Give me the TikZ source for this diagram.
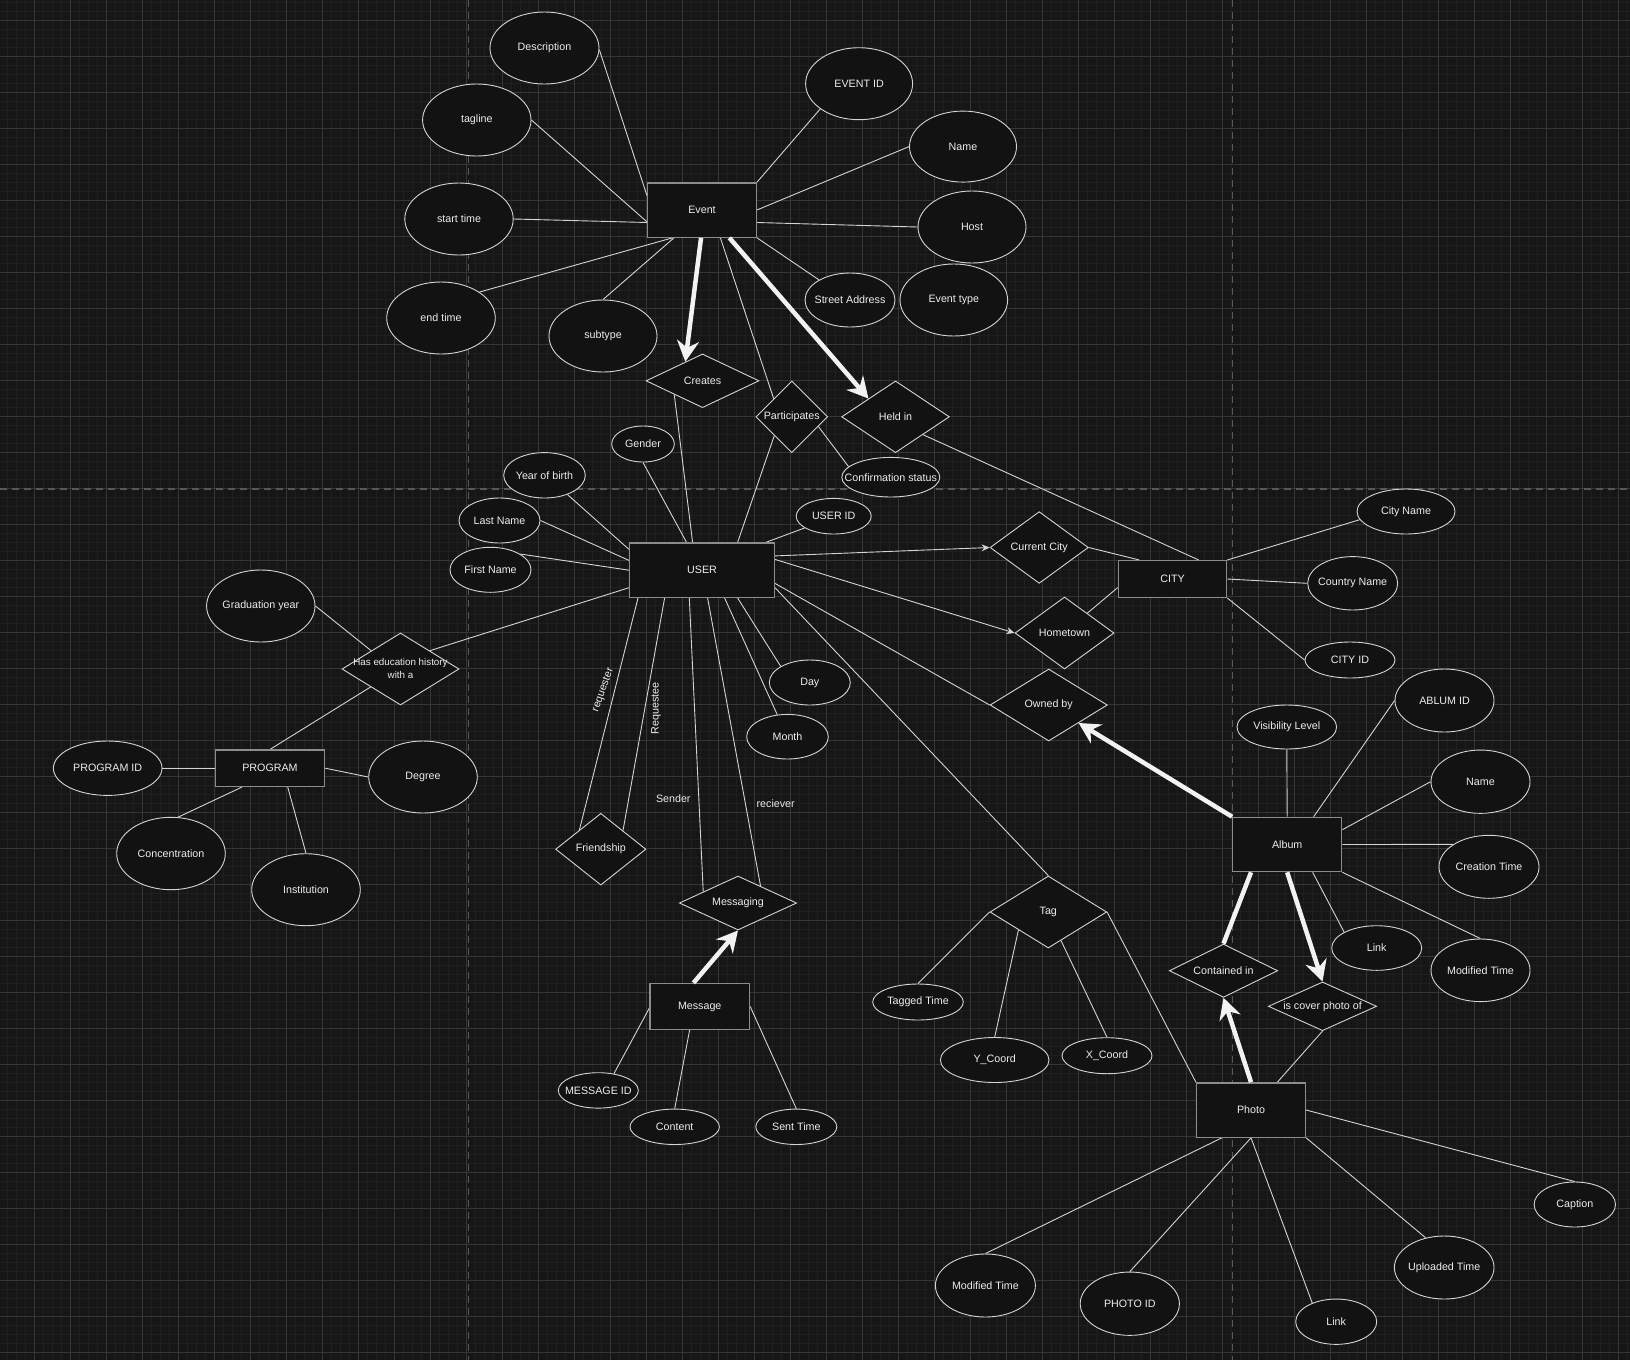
\documentclass[tikz,border=0pt]{standalone}
\usepackage{fontspec}
\setmainfont{Liberation Sans}
\usetikzlibrary{shapes.geometric,arrows.meta,calc}
\definecolor{bgc}{HTML}{161616}
\definecolor{minorc}{HTML}{1F1F1F}
\definecolor{majorc}{HTML}{363636}
\definecolor{breakc}{HTML}{585858}
\definecolor{fillc}{HTML}{121212}
\definecolor{linec}{HTML}{D4D4D4}
\definecolor{entc}{HTML}{8C8C8C}
\definecolor{txtc}{HTML}{EDEDED}
\definecolor{thickc}{HTML}{F2F2F2}
\newcommand{\zt}[1]{\makebox[0pt]{#1}}
\pgfdeclarelayer{gridlayer}
\pgfdeclarelayer{edgelayer}
\pgfsetlayers{gridlayer,edgelayer,main}
\tikzset{
  basefont/.style={font=\fontsize{10.7}{12.5}\selectfont, text=txtc},
  sz/.style 2 args={minimum width=#1pt, minimum height=#2pt},
  ent/.style={rectangle, draw=entc, line width=1.3pt, fill=fillc, inner sep=0pt, basefont},
  attr/.style={ellipse, draw=linec, line width=0.9pt, fill=fillc, inner sep=0pt, basefont},
  rel/.style={diamond, draw=linec, line width=0.9pt, fill=fillc, inner sep=0pt, basefont},
  conn/.style={draw=linec, line width=0.9pt},
  thin arrow/.style={conn, -{Stealth[length=8pt,width=7pt,inset=2.5pt]}},
  heavy/.style={draw=thickc, line width=4.5pt},
  heavy arrow/.style={heavy, -{Stealth[length=21pt,width=22pt,inset=7pt]}},
  elabel/.style={basefont, inner sep=0pt},
  minorgrid/.style={draw=minorc, line width=0.8pt},
  majorgrid/.style={draw=majorc, line width=1pt},
  pagebreak/.style={draw=breakc, line width=1.4pt, dash pattern=on 7pt off 5pt},
}
\begin{document}
\begin{tikzpicture}[x=1pt,y=-1pt]
\useasboundingbox (0,0) rectangle (1630,1360);
\begin{pgfonlayer}{gridlayer}
\fill[bgc] (0,0) rectangle (1630,1360);
\foreach \i in {0,...,180} \draw[minorgrid] ({7.7+9*\i},0) -- ++(0,1360);
\foreach \j in {0,...,151} \draw[minorgrid] (0,{2+9*\j}) -- ++(1630,0);
\foreach \i in {0,...,44} \draw[majorgrid] ({34.7+36*\i},0) -- ++(0,1360);
\foreach \j in {0,...,37} \draw[majorgrid] (0,{20+36*\j}) -- ++(1630,0);
\draw[pagebreak] (468.7,0) -- (468.7,1360);
\draw[pagebreak] (1232.7,0) -- (1232.7,1360);
\draw[pagebreak] (0,489) -- (1630,489);
\end{pgfonlayer}

% entities
\node[ent, sz={108.6}{54.3}] (event) at (702,210) {Event};
\node[ent, sz={144.7}{54.3}] (user) at (702,570.2) {USER};
\node[ent, sz={108.3}{36.7}] (city) at (1172.5,579) {CITY};
\node[ent, sz={109.3}{36.3}] (program) at (270,768.2) {PROGRAM};
\node[ent, sz={109}{54.3}] (album) at (1287.2,844.5) {Album};
\node[ent, sz={99.7}{46}] (message) at (699.7,1006.5) {Message};
\node[ent, sz={108.9}{54.3}] (photo) at (1251,1110) {Photo};

% relationships
\node[rel, sz={113}{53.7}] (creates) at (702.5,380.8) {\zt{Creates}};
\node[rel, sz={71.7}{71.7}] (particip) at (791.8,416.8) {\zt{Participates}};
\node[rel, sz={107.7}{71.7}] (heldin) at (895.5,416.8) {\zt{Held in}};
\node[rel, sz={98.3}{71.7}] (curcity) at (1039.2,547.5) {\zt{Current City}};
\node[rel, sz={99}{72}] (hometown) at (1064.5,633) {\zt{Hometown}};
\node[rel, sz={117.3}{72}] (ownedby) at (1048.7,705) {\zt{Owned by}};
\node[rel, sz={117}{72}] (hasedu) at (400.5,669) {\zt{\fontsize{9.8}{13}\selectfont\begin{tabular}{@{}c@{}}Has education history\\with a\end{tabular}}};
\node[rel, sz={90.3}{71.7}] (friendship) at (600.8,849.2) {\zt{Friendship}};
\node[rel, sz={117.3}{54}] (messaging) at (738,903) {\zt{Messaging}};
\node[rel, sz={116.7}{72}] (tag) at (1048.3,912) {\zt{Tag}};
\node[rel, sz={108.3}{53.3}] (contained) at (1223.5,970.7) {\zt{Contained in}};
\node[rel, sz={108.3}{48.7}] (cover) at (1322.5,1006.3) {\zt{is cover photo of}};

% attributes
\node[attr, sz={109}{72}] (desc) at (544.5,48) {\zt{Description}};
\node[attr, sz={108.4}{72}] (tagline) at (476.8,120) {\zt{tagline}};
\node[attr, sz={108.4}{72}] (starttime) at (459,219) {\zt{start time}};
\node[attr, sz={108.6}{72}] (endtime) at (441,318) {\zt{end time}};
\node[attr, sz={108}{72}] (subtype) at (603,336) {\zt{subtype}};
\node[attr, sz={107}{72}] (eventid) at (859.1,83.7) {\zt{EVENT ID}};
\node[attr, sz={107}{71}] (ename) at (963,146.6) {\zt{Name}};
\node[attr, sz={108}{72}] (host) at (972,227) {\zt{Host}};
\node[attr, sz={90}{54}] (street) at (850,300) {\zt{Street Address}};
\node[attr, sz={107.6}{72}] (etype) at (953.8,300) {\zt{Event type}};
\node[attr, sz={98}{39.6}] (confirm) at (890.8,477.2) {\zt{Confirmation status}};
\node[attr, sz={62.6}{36}] (gender) at (643,444) {\zt{Gender}};
\node[attr, sz={81.6}{45.4}] (yob) at (544.5,475.3) {\zt{Year of birth}};
\node[attr, sz={81}{45}] (lastname) at (499.5,520.5) {\zt{Last Name}};
\node[attr, sz={81}{45}] (firstname) at (490.5,569.8) {\zt{First Name}};
\node[attr, sz={75}{35.6}] (userid) at (833.7,516.2) {\zt{USER ID}};
\node[attr, sz={81}{45}] (day) at (809.8,682.5) {\zt{Day}};
\node[attr, sz={81.6}{44.6}] (month) at (787.5,736.7) {\zt{Month}};
\node[attr, sz={98}{45}] (cityname) at (1406,511.5) {\zt{City Name}};
\node[attr, sz={90}{53.4}] (country) at (1352.7,583.3) {\zt{Country Name}};
\node[attr, sz={90}{36}] (cityid) at (1350,660) {\zt{CITY ID}};
\node[attr, sz={99.6}{44}] (visibility) at (1286.8,727) {\zt{Visibility Level}};
\node[attr, sz={99}{63}] (albumid) at (1444.5,700.5) {\zt{ABLUM ID}};
\node[attr, sz={99}{63.3}] (aname) at (1480.5,781.7) {\zt{Name}};
\node[attr, sz={100}{63}] (ctime) at (1489,866.8) {\zt{Creation Time}};
\node[attr, sz={90}{44.6}] (alink) at (1376.7,948) {\zt{Link}};
\node[attr, sz={99}{62.6}] (amtime) at (1480.5,970.3) {\zt{Modified Time}};
\node[attr, sz={90.6}{36}] (taggedtime) at (918,1002) {\zt{Tagged Time}};
\node[attr, sz={108.6}{45}] (ycoord) at (994.7,1060) {\zt{Y\_Coord}};
\node[attr, sz={90}{36}] (xcoord) at (1107,1055.7) {\zt{X\_Coord}};
\node[attr, sz={80}{35.4}] (msgid) at (598.3,1090.4) {\zt{MESSAGE ID}};
\node[attr, sz={89.4}{35.4}] (content) at (674.7,1126.8) {\zt{Content}};
\node[attr, sz={81}{35.4}] (senttime) at (796.3,1126.8) {\zt{Sent Time}};
\node[attr, sz={81.4}{45}] (caption) at (1574.8,1204.5) {\zt{Caption}};
\node[attr, sz={99.6}{63}] (uploaded) at (1444.2,1267.5) {\zt{Uploaded Time}};
\node[attr, sz={81}{45.3}] (plink) at (1336.2,1321.7) {\zt{Link}};
\node[attr, sz={99.2}{63.3}] (photoid) at (1129.8,1303.7) {\zt{PHOTO ID}};
\node[attr, sz={100}{63}] (pmtime) at (985.4,1285.5) {\zt{Modified Time}};
\node[attr, sz={108.4}{72}] (gradyear) at (260.8,606) {\zt{Graduation year}};
\node[attr, sz={108.6}{54.4}] (programid) at (107.7,768.2) {\zt{PROGRAM ID}};
\node[attr, sz={108.6}{72}] (degree) at (423,777) {\zt{Degree}};
\node[attr, sz={108.6}{72.4}] (concentration) at (171,853.5) {\zt{Concentration}};
\node[attr, sz={108.6}{72}] (institution) at (306,889.7) {\zt{Institution}};

% edge labels
\node[elabel, rotate=70] (lreq) at (603.3,690) {requester};
\node[elabel, rotate=90] (lreqe) at (656,708.3) {Requestee};
\node[elabel] (lsend) at (673.3,799) {Sender};
\node[elabel] (lrecv) at (775.7,803.3) {reciever};

\begin{pgfonlayer}{edgelayer}
% Event
\draw[conn] (desc.-2) -- ($(event.north west)+(0,13.7)$);
\draw[conn] (tagline.east) -- ($(event.north west)+(0,39.7)$);
\draw[conn] (starttime.east) -- ($(event.north west)+(0,40.3)$);
\draw[conn] (endtime.34) -- ($(event.south west)+(25.6,0)$);
\draw[conn] (subtype.north) -- ($(event.south west)+(27,0)$);
\draw[conn] (eventid.213.8) -- (event.north east);
\draw[conn] (ename.west) -- (event.east);
\draw[conn] (host.west) -- ($(event.north east)+(0,40.3)$);
\draw[conn] (street.147.8) -- (event.south east);
\draw[conn] ($(event.south west)+(73.3,0)$) -- (particip.135);
% User
\draw[conn] (creates.206.7) -- ($(user.north west)+(63.6,0)$);
\draw[conn] (particip.227) -- ($(user.north west)+(108.6,0)$);
\draw[conn] (particip.-20.5) -- (confirm.166.4);
\draw[conn] (heldin.-33.2) -- ($(city.north west)+(81,0)$);
\draw[conn] (gender.south) -- ($(user.north west)+(57.6,0)$);
\draw[conn] (yob.-40.6) -- ($(user.north west)+(0,7)$);
\draw[conn] (lastname.east) -- ($(user.north west)+(0,18)$);
\draw[conn] (firstname.28.2) -- (user.west);
\draw[conn] (userid.202.9) -- ($(user.north east)+(-9.3,0)$);
\draw[thin arrow] ($(user.north east)+(0,13.5)$) -- (curcity.west);
\draw[thin arrow] ($(user.north east)+(0,17)$) -- (hometown.west);
\draw[conn] ($(user.north east)+(0,41)$) -- (ownedby.west);
\draw[conn] ($(user.north east)+(0,45.3)$) -- (tag.north);
\draw[conn] ($(user.north west)+(0,45.3)$) -- (hasedu.32.8);
\draw[conn] ($(user.south west)+(9,0)$) -- (friendship.138.6);
\draw[conn] ($(user.south west)+(35.6,0)$) -- (friendship.40.5);
\draw[conn] ($(user.south west)+(60.3,0)$) -- (messaging.162.9);
\draw[conn] ($(user.south west)+(78.6,0)$) -- (messaging.37.7);
\draw[conn] ($(user.south west)+(95.6,0)$) -- (month.115);
\draw[conn] ($(user.south west)+(108.6,0)$) -- (day.151.5);
% City
\draw[conn] (curcity.east) -- ($(city.north west)+(21.7,0)$);
\draw[conn] (hometown.41.6) -- ($(city.north west)+(0,27.6)$);
\draw[conn] (city.north east) -- (cityname.190);
\draw[conn] (city.east) -- (country.west);
\draw[conn] (city.south east) -- (cityid.west);
% Album
\draw[conn] (visibility.south) -- (album.north);
\draw[conn] (albumid.west) -- ($(album.north west)+(81.6,0)$);
\draw[conn] (aname.west) -- ($(album.north east)+(0,13)$);
\draw[conn] (album.east) -- (ctime.148.6);
\draw[conn] (album.south east) -- (amtime.north);
\draw[conn] ($(album.south west)+(80.6,0)$) -- (alink.154);
% Photo and Tag
\draw[conn] (cover.south) -- ($(photo.north west)+(81.4,0)$);
\draw[conn] (tag.east) -- (photo.north west);
\draw[conn] (tag.west) -- (taggedtime.north);
\draw[conn] (tag.211) -- (ycoord.north);
\draw[conn] (tag.-66.6) -- (xcoord.north);
\draw[conn] ($(photo.south west)+(26,0)$) -- (pmtime.north);
\draw[conn] (photo.south) -- (photoid.north);
\draw[conn] (photo.south) -- (plink.142.7);
\draw[conn] (photo.south east) -- (uploaded.122.9);
\draw[conn] (photo.east) -- (caption.north);
% Program
\draw[conn] (gradyear.east) -- (hasedu.148.4);
\draw[conn] (hasedu.211.1) -- (program.north);
\draw[conn] (programid.east) -- (program.west);
\draw[conn] (program.east) -- (degree.west);
\draw[conn] ($(program.south west)+(27.4,0)$) -- (concentration.79.3);
\draw[conn] ($(program.south west)+(73,0)$) -- (institution.north);
% Message
\draw[conn] ($(message.west)+(0,1.8)$) -- (msgid.47.9);
\draw[conn] ($(message.south west)+(40.4,0)$) -- (content.north);
\draw[conn] (message.east) -- (senttime.north);
\end{pgfonlayer}

% heavy connectors
\draw[heavy arrow] ($(event.south west)+(54,0)$) -- (creates.132);
\draw[heavy arrow] ($(event.south west)+(82.3,0)$) -- (heldin.146.7);
\draw[heavy arrow] (album.north west) -- (ownedby.-31.7);
\draw[heavy arrow] (album.south) -- (cover.north);
\draw[heavy] ($(album.south west)+(19,0)$) -- (contained.north);
\draw[heavy arrow] (photo.north) -- (contained.south);
\draw[heavy arrow] ($(message.north west)+(44.3,0)$) -- (messaging.south);
\end{tikzpicture}
\end{document}
